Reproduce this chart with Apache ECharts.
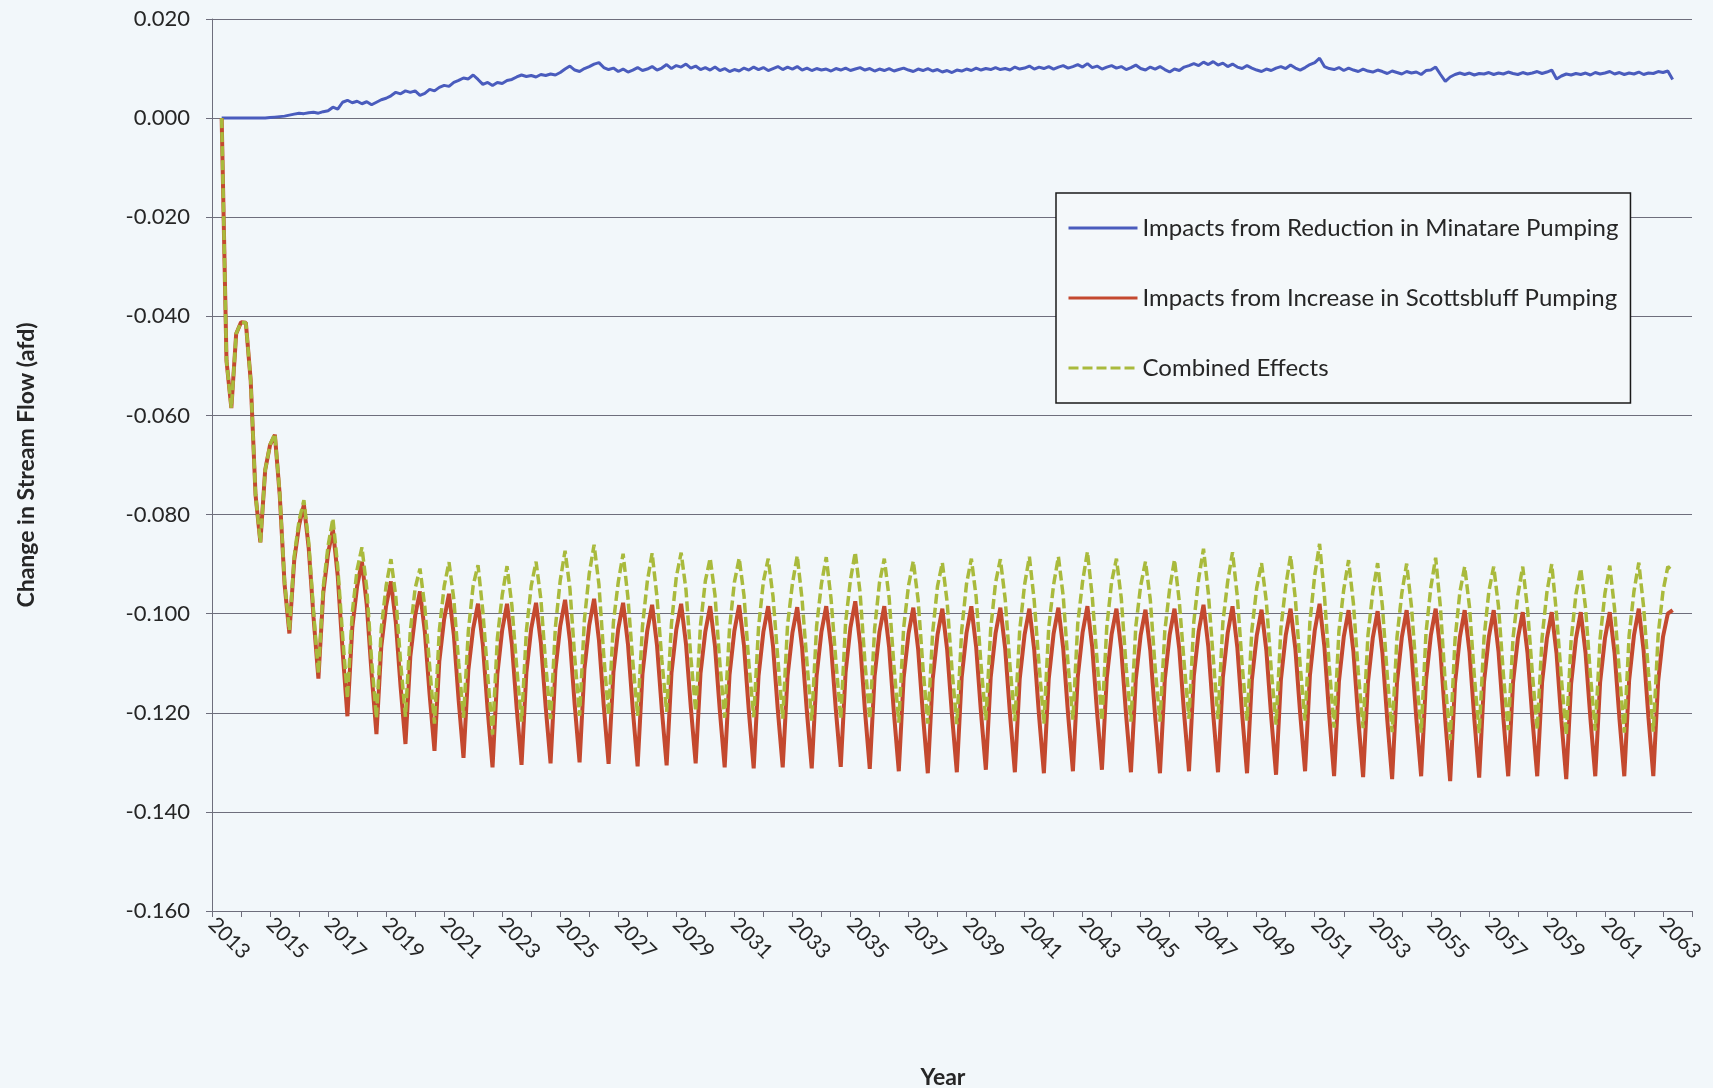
<!DOCTYPE html>
<html>
<head>
<meta charset="utf-8">
<title>Change in Stream Flow</title>
<script src="https://cdn.jsdelivr.net/npm/echarts@6/dist/echarts.min.js"></script>
<style>
  html, body { margin: 0; padding: 0; background: #f2f7fa; }
  #chart { width: 1713px; height: 1088px; }
</style>
</head>
<body>
<div id="chart"></div>
<script>
// Samples every two months, starting in spring 2013 (decimal years).
const START_YEAR = 2013 + 2 / 6;
const STEP = 1 / 6;

// Tick labels on the year axis
const yearLabels = [2013, 2015, 2017, 2019, 2021, 2023, 2025, 2027, 2029, 2031, 2033, 2035, 2037,
  2039, 2041, 2043, 2045, 2047, 2049, 2051, 2053, 2055, 2057, 2059, 2061, 2063];

const seriesNames = [
  'Impacts from Reduction in Minatare Pumping',
  'Impacts from Increase in Scottsbluff Pumping',
  'Combined Effects'
];

// Change in stream flow (afd), one row per year
const minatare = [
  0.0000, 0.0000, 0.0000, 0.0000,
  0.0000, 0.0000, 0.0000, 0.0000, 0.0000, 0.0000,
  0.0001, 0.0002, 0.0003, 0.0004, 0.0006, 0.0008,
  0.0010, 0.0009, 0.0011, 0.0012, 0.0010, 0.0013,
  0.0015, 0.0022, 0.0018, 0.0032, 0.0036, 0.0031,
  0.0034, 0.0029, 0.0033, 0.0027, 0.0032, 0.0037,
  0.0040, 0.0045, 0.0052, 0.0049, 0.0055, 0.0052,
  0.0055, 0.0046, 0.0050, 0.0058, 0.0055, 0.0062,
  0.0066, 0.0064, 0.0072, 0.0076, 0.0081, 0.0079,
  0.0087, 0.0078, 0.0068, 0.0072, 0.0066, 0.0072,
  0.0070, 0.0076, 0.0078, 0.0083, 0.0087, 0.0084,
  0.0086, 0.0083, 0.0088, 0.0086, 0.0089, 0.0087,
  0.0092, 0.0099, 0.0105, 0.0097, 0.0094, 0.0100,
  0.0104, 0.0109, 0.0112, 0.0102, 0.0098, 0.0101,
  0.0094, 0.0099, 0.0093, 0.0097, 0.0102, 0.0096,
  0.0099, 0.0104, 0.0097, 0.0101, 0.0108, 0.0100,
  0.0106, 0.0103, 0.0109, 0.0101, 0.0105, 0.0098,
  0.0102, 0.0097, 0.0103, 0.0096, 0.0100, 0.0094,
  0.0098, 0.0095, 0.0101, 0.0097, 0.0103, 0.0098,
  0.0102, 0.0096, 0.0100, 0.0104, 0.0098, 0.0103,
  0.0099, 0.0104, 0.0097, 0.0101, 0.0096, 0.0100,
  0.0097, 0.0099, 0.0095, 0.0100, 0.0097, 0.0101,
  0.0096, 0.0099, 0.0102, 0.0097, 0.0100, 0.0095,
  0.0099, 0.0096, 0.0100, 0.0095, 0.0098, 0.0101,
  0.0097, 0.0094, 0.0099, 0.0096, 0.0100, 0.0095,
  0.0098, 0.0093, 0.0096, 0.0092, 0.0097, 0.0095,
  0.0099, 0.0096, 0.0101, 0.0097, 0.0100, 0.0098,
  0.0102, 0.0098, 0.0100, 0.0097, 0.0103, 0.0099,
  0.0101, 0.0105, 0.0099, 0.0103, 0.0100, 0.0104,
  0.0099, 0.0103, 0.0106, 0.0101, 0.0104, 0.0108,
  0.0103, 0.0110, 0.0102, 0.0105, 0.0099, 0.0103,
  0.0106, 0.0101, 0.0104, 0.0098, 0.0102, 0.0107,
  0.0100, 0.0097, 0.0103, 0.0099, 0.0104, 0.0098,
  0.0093, 0.0099, 0.0096, 0.0103, 0.0106, 0.0110,
  0.0106, 0.0113, 0.0108, 0.0114, 0.0107, 0.0111,
  0.0104, 0.0109, 0.0103, 0.0100, 0.0106, 0.0101,
  0.0097, 0.0094, 0.0099, 0.0096, 0.0101, 0.0104,
  0.0100, 0.0107, 0.0101, 0.0097, 0.0102, 0.0108,
  0.0112, 0.0121, 0.0104, 0.0100, 0.0098, 0.0102,
  0.0096, 0.0101, 0.0097, 0.0094, 0.0099, 0.0095,
  0.0093, 0.0097, 0.0094, 0.0090, 0.0095, 0.0092,
  0.0089, 0.0094, 0.0091, 0.0093, 0.0088, 0.0096,
  0.0097, 0.0103, 0.0088, 0.0074, 0.0083, 0.0088,
  0.0091, 0.0088, 0.0091, 0.0087, 0.0090, 0.0089,
  0.0092, 0.0088, 0.0091, 0.0089, 0.0093, 0.0090,
  0.0088, 0.0092, 0.0089, 0.0091, 0.0094, 0.0090,
  0.0093, 0.0097, 0.0079, 0.0085, 0.0089, 0.0087,
  0.0090, 0.0088, 0.0091, 0.0087, 0.0092, 0.0089,
  0.0091, 0.0094, 0.0089, 0.0092, 0.0088, 0.0091,
  0.0089, 0.0093, 0.0088, 0.0091, 0.0090, 0.0094,
  0.0092, 0.0095, 0.0078
];

const scottsbluff = [
  0.0000, -0.0490, -0.0585, -0.0435,
  -0.0412, -0.0413, -0.0529, -0.0760, -0.0856, -0.0710,
  -0.0660, -0.0639, -0.0760, -0.0940, -0.1040, -0.0892,
  -0.0822, -0.0780, -0.0868, -0.1008, -0.1131, -0.0959,
  -0.0878, -0.0830, -0.0924, -0.1075, -0.1207, -0.1029,
  -0.0945, -0.0895, -0.0982, -0.1121, -0.1243, -0.1067,
  -0.0984, -0.0935, -0.1017, -0.1148, -0.1263, -0.1087,
  -0.1004, -0.0955, -0.1036, -0.1164, -0.1277, -0.1096,
  -0.1011, -0.0960, -0.1043, -0.1175, -0.1291, -0.1114,
  -0.1030, -0.0980, -0.1063, -0.1195, -0.1310, -0.1122,
  -0.1033, -0.0980, -0.1061, -0.1191, -0.1305, -0.1119,
  -0.1030, -0.0978, -0.1059, -0.1189, -0.1302, -0.1114,
  -0.1025, -0.0972, -0.1054, -0.1185, -0.1300, -0.1112,
  -0.1023, -0.0970, -0.1053, -0.1186, -0.1303, -0.1118,
  -0.1030, -0.0978, -0.1061, -0.1193, -0.1308, -0.1122,
  -0.1034, -0.0982, -0.1063, -0.1193, -0.1306, -0.1120,
  -0.1032, -0.0980, -0.1061, -0.1189, -0.1302, -0.1121,
  -0.1036, -0.0985, -0.1066, -0.1196, -0.1310, -0.1124,
  -0.1035, -0.0983, -0.1065, -0.1197, -0.1312, -0.1126,
  -0.1037, -0.0985, -0.1066, -0.1196, -0.1310, -0.1126,
  -0.1039, -0.0987, -0.1068, -0.1198, -0.1312, -0.1126,
  -0.1037, -0.0985, -0.1066, -0.1196, -0.1309, -0.1119,
  -0.1028, -0.0975, -0.1060, -0.1195, -0.1313, -0.1126,
  -0.1037, -0.0985, -0.1068, -0.1201, -0.1318, -0.1130,
  -0.1041, -0.0988, -0.1072, -0.1205, -0.1322, -0.1133,
  -0.1043, -0.0990, -0.1073, -0.1205, -0.1320, -0.1129,
  -0.1039, -0.0985, -0.1068, -0.1200, -0.1315, -0.1129,
  -0.1040, -0.0988, -0.1071, -0.1204, -0.1320, -0.1132,
  -0.1043, -0.0990, -0.1073, -0.1206, -0.1322, -0.1132,
  -0.1041, -0.0988, -0.1071, -0.1203, -0.1318, -0.1128,
  -0.1038, -0.0985, -0.1068, -0.1200, -0.1315, -0.1130,
  -0.1042, -0.0990, -0.1073, -0.1205, -0.1320, -0.1133,
  -0.1044, -0.0992, -0.1075, -0.1207, -0.1322, -0.1133,
  -0.1043, -0.0990, -0.1072, -0.1203, -0.1318, -0.1126,
  -0.1036, -0.0982, -0.1067, -0.1202, -0.1320, -0.1129,
  -0.1039, -0.0985, -0.1069, -0.1204, -0.1322, -0.1134,
  -0.1045, -0.0992, -0.1075, -0.1208, -0.1325, -0.1134,
  -0.1044, -0.0990, -0.1072, -0.1203, -0.1318, -0.1125,
  -0.1034, -0.0980, -0.1067, -0.1206, -0.1328, -0.1137,
  -0.1047, -0.0993, -0.1077, -0.1212, -0.1330, -0.1139,
  -0.1049, -0.0995, -0.1080, -0.1215, -0.1334, -0.1140,
  -0.1048, -0.0993, -0.1077, -0.1211, -0.1328, -0.1135,
  -0.1044, -0.0990, -0.1077, -0.1216, -0.1338, -0.1141,
  -0.1048, -0.0993, -0.1078, -0.1213, -0.1331, -0.1138,
  -0.1047, -0.0993, -0.1077, -0.1211, -0.1328, -0.1139,
  -0.1050, -0.0997, -0.1080, -0.1212, -0.1328, -0.1139,
  -0.1050, -0.0997, -0.1081, -0.1216, -0.1334, -0.1142,
  -0.1051, -0.0997, -0.1080, -0.1212, -0.1328, -0.1139,
  -0.1050, -0.0997, -0.1080, -0.1212, -0.1328, -0.1135,
  -0.1044, -0.0990, -0.1075, -0.1210, -0.1328, -0.1137,
  -0.1047, -0.1000, -0.0993
];

const combined = [
  0.0000, -0.0490, -0.0585, -0.0435,
  -0.0412, -0.0413, -0.0529, -0.0760, -0.0856, -0.0710,
  -0.0659, -0.0637, -0.0757, -0.0936, -0.1034, -0.0884,
  -0.0812, -0.0771, -0.0857, -0.0996, -0.1121, -0.0946,
  -0.0863, -0.0808, -0.0906, -0.1043, -0.1171, -0.0998,
  -0.0911, -0.0866, -0.0949, -0.1094, -0.1211, -0.1030,
  -0.0944, -0.0890, -0.0965, -0.1099, -0.1208, -0.1035,
  -0.0949, -0.0909, -0.0986, -0.1106, -0.1222, -0.1034,
  -0.0945, -0.0896, -0.0971, -0.1099, -0.1210, -0.1035,
  -0.0943, -0.0902, -0.0995, -0.1123, -0.1244, -0.1050,
  -0.0963, -0.0904, -0.0983, -0.1108, -0.1218, -0.1035,
  -0.0944, -0.0895, -0.0971, -0.1103, -0.1213, -0.1027,
  -0.0933, -0.0873, -0.0949, -0.1088, -0.1206, -0.1012,
  -0.0919, -0.0861, -0.0941, -0.1084, -0.1205, -0.1017,
  -0.0936, -0.0879, -0.0968, -0.1096, -0.1206, -0.1026,
  -0.0935, -0.0878, -0.0966, -0.1092, -0.1198, -0.1020,
  -0.0926, -0.0877, -0.0952, -0.1088, -0.1197, -0.1023,
  -0.0934, -0.0888, -0.0963, -0.1100, -0.1210, -0.1030,
  -0.0937, -0.0888, -0.0964, -0.1100, -0.1209, -0.1028,
  -0.0935, -0.0889, -0.0966, -0.1092, -0.1212, -0.1023,
  -0.0940, -0.0883, -0.0971, -0.1097, -0.1216, -0.1026,
  -0.0940, -0.0886, -0.0971, -0.1096, -0.1212, -0.1018,
  -0.0932, -0.0876, -0.0958, -0.1098, -0.1213, -0.1031,
  -0.0938, -0.0889, -0.0968, -0.1106, -0.1220, -0.1029,
  -0.0944, -0.0894, -0.0973, -0.1109, -0.1222, -0.1038,
  -0.0945, -0.0897, -0.0977, -0.1113, -0.1223, -0.1034,
  -0.0940, -0.0889, -0.0967, -0.1103, -0.1215, -0.1031,
  -0.0938, -0.0890, -0.0971, -0.1107, -0.1217, -0.1033,
  -0.0942, -0.0885, -0.0974, -0.1103, -0.1222, -0.1028,
  -0.0942, -0.0885, -0.0965, -0.1102, -0.1214, -0.1020,
  -0.0935, -0.0875, -0.0966, -0.1095, -0.1216, -0.1027,
  -0.0936, -0.0889, -0.0969, -0.1107, -0.1218, -0.1026,
  -0.0944, -0.0895, -0.0972, -0.1108, -0.1218, -0.1035,
  -0.0950, -0.0891, -0.0976, -0.1100, -0.1212, -0.1016,
  -0.0930, -0.0869, -0.0959, -0.1088, -0.1213, -0.1018,
  -0.0935, -0.0876, -0.0966, -0.1104, -0.1216, -0.1033,
  -0.0948, -0.0898, -0.0976, -0.1112, -0.1224, -0.1030,
  -0.0944, -0.0883, -0.0971, -0.1106, -0.1216, -0.1017,
  -0.0922, -0.0859, -0.0963, -0.1106, -0.1230, -0.1035,
  -0.0951, -0.0892, -0.0980, -0.1118, -0.1231, -0.1044,
  -0.0956, -0.0898, -0.0986, -0.1125, -0.1239, -0.1048,
  -0.0959, -0.0899, -0.0986, -0.1118, -0.1240, -0.1039,
  -0.0947, -0.0887, -0.0989, -0.1142, -0.1255, -0.1053,
  -0.0957, -0.0905, -0.0987, -0.1126, -0.1241, -0.1049,
  -0.0955, -0.0905, -0.0986, -0.1122, -0.1235, -0.1049,
  -0.0962, -0.0905, -0.0991, -0.1121, -0.1234, -0.1049,
  -0.0957, -0.0900, -0.1002, -0.1131, -0.1245, -0.1055,
  -0.0961, -0.0909, -0.0989, -0.1125, -0.1236, -0.1050,
  -0.0959, -0.0903, -0.0991, -0.1120, -0.1240, -0.1044,
  -0.0955, -0.0897, -0.0987, -0.1119, -0.1238, -0.1043,
  -0.0955, -0.0905, -0.0915
];

const COLORS = ['#4a5cbd', '#c4492f', '#a9ba3c'];
const FONT = 'Lato, "Open Sans", sans-serif';
const TEXT = '#262626';
const GRID_LINE = '#6e6e7c';

function toPairs(values) {
  return values.map((v, i) => [START_YEAR + i * STEP, v]);
}

const chart = echarts.init(document.getElementById('chart'), null, { renderer: 'canvas' });

chart.setOption({
  animation: false,
  backgroundColor: '#f2f7fa',
  textStyle: { fontFamily: FONT, color: TEXT },
  grid: { left: 212, right: 21, top: 19, bottom: 177, outerBoundsMode: 'none', containLabel: false },
  legend: {
    orient: 'vertical',
    left: 1056,
    top: 193,
    padding: [22, 12, 22, 11],
    itemGap: 44,
    itemWidth: 69,
    itemHeight: 14,
    backgroundColor: '#f4f8fa',
    borderColor: '#1a1a1a',
    borderWidth: 1.5,
    borderRadius: 0,
    itemStyle: { opacity: 0 },
    lineStyle: { width: 3 },
    textStyle: { fontFamily: FONT, fontSize: 24, lineHeight: 26, color: TEXT },
    data: seriesNames
  },
  xAxis: {
    type: 'value',
    min: 2013,
    max: 2064,
    interval: 1,
    name: 'Year',
    nameLocation: 'middle',
    nameGap: 155,
    nameTextStyle: { fontFamily: FONT, fontSize: 23, fontWeight: 'bold', color: TEXT, padding: [0, 18, 0, 0] },
    axisLine: { show: true, onZero: false, lineStyle: { color: GRID_LINE, width: 1 } },
    axisTick: { show: true, length: 6, lineStyle: { color: GRID_LINE } },
    splitLine: { show: false },
    axisLabel: {
      rotate: -45,
      margin: 10,
      fontFamily: FONT,
      fontSize: 21,
      color: TEXT,
      hideOverlap: false,
      formatter: v => (yearLabels.indexOf(Math.round(v)) >= 0 && Math.abs(v - Math.round(v)) < 1e-6) ? String(Math.round(v)) : ''
    }
  },
  yAxis: {
    type: 'value',
    min: -0.16,
    max: 0.02,
    interval: 0.02,
    name: 'Change in Stream Flow (afd)',
    nameLocation: 'middle',
    nameGap: 174,
    nameTextStyle: { fontFamily: FONT, fontSize: 23, fontWeight: 'bold', color: TEXT },
    axisLine: { show: true, lineStyle: { color: GRID_LINE, width: 1 } },
    axisTick: { show: true, length: 6, lineStyle: { color: GRID_LINE } },
    splitLine: { show: true, lineStyle: { color: GRID_LINE, width: 1 } },
    axisLabel: {
      margin: 22,
      fontFamily: FONT,
      fontSize: 22,
      color: TEXT,
      formatter: v => v.toFixed(3)
    }
  },
  series: [
    {
      name: seriesNames[0],
      type: 'line',
      data: toPairs(minatare),
      symbol: 'none',
      lineStyle: { color: COLORS[0], width: 3 },
      itemStyle: { color: COLORS[0] },
      z: 3
    },
    {
      name: seriesNames[1],
      type: 'line',
      data: toPairs(scottsbluff),
      symbol: 'none',
      lineStyle: { color: COLORS[1], width: 4 },
      itemStyle: { color: COLORS[1] },
      z: 4
    },
    {
      name: seriesNames[2],
      type: 'line',
      data: toPairs(combined),
      symbol: 'none',
      lineStyle: { color: COLORS[2], width: 3.5, type: [10, 4] },
      itemStyle: { color: COLORS[2] },
      z: 5
    }
  ]
});
</script>
</body>
</html>
